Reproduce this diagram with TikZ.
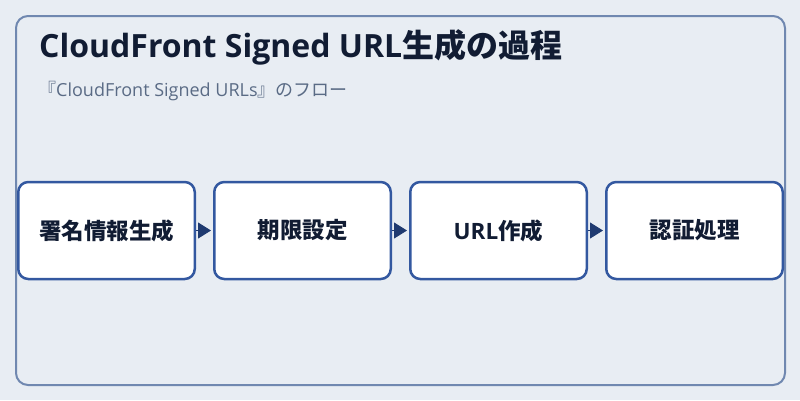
\documentclass[tikz,border=0pt]{standalone}
\usepackage{fontspec}
\setmainfont{Noto Sans CJK JP}
\newfontfamily\latin{Open Sans}
\usepackage{xcolor}
\usetikzlibrary{positioning,arrows.meta}
\definecolor{bgcol}{HTML}{E8EDF3}
\definecolor{framecol}{HTML}{7088B0}
\definecolor{boxline}{HTML}{3358A0}
\definecolor{arrcol}{HTML}{1F3A70}
\definecolor{titlecol}{HTML}{111C33}
\definecolor{subcol}{HTML}{5A6B85}
\tikzstyle{stage} = [rectangle, rounded corners=10pt, draw=boxline, line width=2.5pt, fill=white, minimum width=176.5pt, minimum height=97pt, text=titlecol, font=\bfseries\fontsize{22.5pt}{26pt}\selectfont]
\tikzstyle{flow} = [draw=arrcol, line width=1pt, shorten >=2pt, -{Triangle[length=13pt,width=16pt]}, arrcol]

\begin{document}
\begin{tikzpicture}[x=1pt, y=-1pt, on grid, node distance=196pt]
\fill[bgcol] (0,0) rectangle (800,400);
\useasboundingbox (0,0) rectangle (800,400);
\draw[framecol, line width=2pt, rounded corners=12pt] (16,16) rectangle (785,385);
\node(T)[anchor=base west, inner sep=0pt, text=titlecol, font=\bfseries\fontsize{32pt}{36pt}\selectfont] at (39,57) {{\latin CloudFront Signed URL}生成の過程};
\node(S)[anchor=base west, inner sep=0pt, text=subcol, font=\fontsize{18pt}{22pt}\selectfont] at (38,96) {『{\latin CloudFront Signed URLs}』のフロー};
\node(A)[stage] at (106.5,230.5) {署名情報生成};
\node(B)[stage, right=of A] {期限設定};
\node(C)[stage, right=of B] {{\latin URL}作成};
\node(D)[stage, right=of C] {認証処理};
\draw[flow] (A) -- (B);
\draw[flow] (B) -- (C);
\draw[flow] (C) -- (D);
\end{tikzpicture}
\end{document}
